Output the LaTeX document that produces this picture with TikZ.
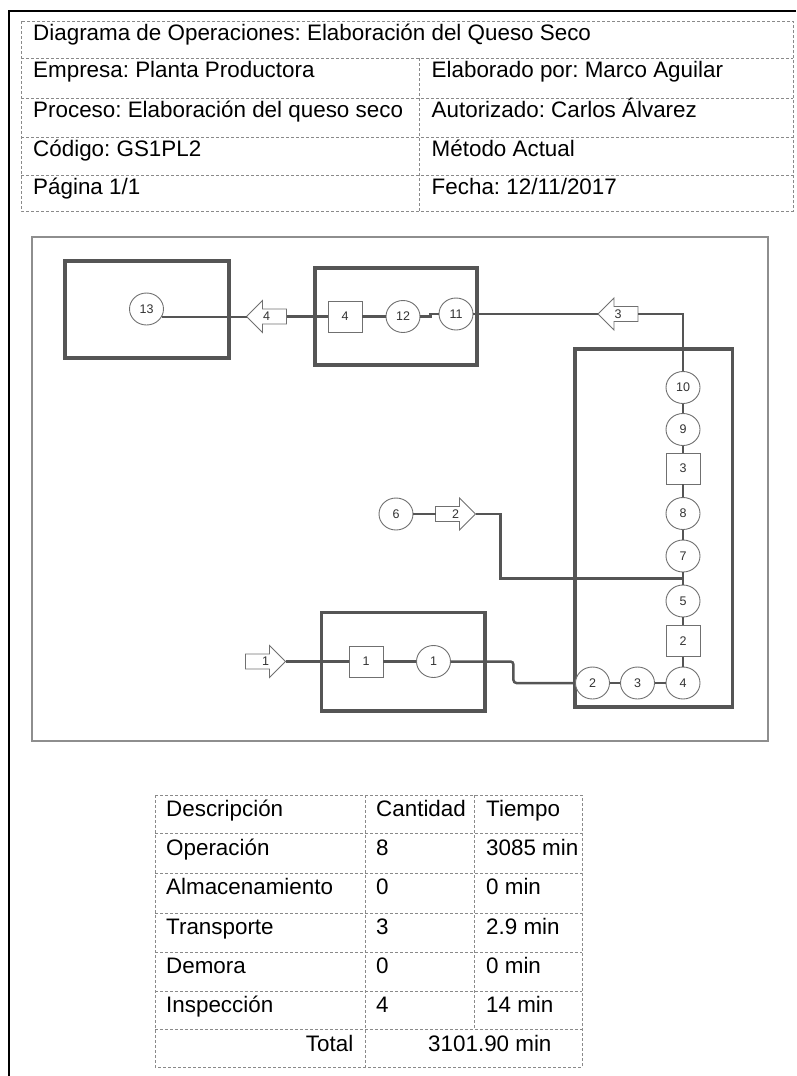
\documentclass[tikz,border=0pt]{standalone}
\usepackage{fontspec}
\setmainfont{Liberation Sans}
\usetikzlibrary{shapes.geometric,calc}
\definecolor{lineg}{HTML}{555555}
\definecolor{shapeg}{HTML}{707070}
\definecolor{frameg}{HTML}{8E8E8E}
\definecolor{dashg}{HTML}{8A8A8A}
\definecolor{txtg}{HTML}{333333}
\frenchspacing

\newcommand{\tarrow}[5]{% name, x, y, label, direction
  \begin{scope}[shift={(#2,#3)}, xscale=#5]
    \draw[arrowshape] (-20,-7.5) -- (4,-7.5) -- (4,-16) -- (20,0) -- (4,16) -- (4,7.5) -- (-20,7.5) -- cycle;
    \coordinate (#1-tip) at (20,0);
    \coordinate (#1-tail) at (-20,0);
  \end{scope}
  \node[lbl] (#1) at (#2,#3) {#4};
}

\begin{document}
\begin{tikzpicture}[x=1pt,y=-1pt,
  conn/.style={draw=lineg, line width=2.5pt},
  boxst/.style={draw=lineg, line width=3.5pt},
  circ/.style={ellipse, draw=shapeg, fill=white, line width=0.9pt, minimum width=34pt, minimum height=32pt, inner sep=0pt, font=\fontsize{12.5}{12.5}\selectfont, text=txtg},
  sq/.style={rectangle, draw=shapeg, fill=white, line width=0.9pt, minimum width=34pt, minimum height=31pt, inner sep=0pt, font=\fontsize{12.5}{12.5}\selectfont, text=txtg},
  arrowshape/.style={draw=shapeg, fill=white, line width=0.9pt, line join=miter},
  lbl/.style={inner sep=0pt, font=\fontsize{12.5}{12.5}\selectfont, text=txtg},
  hdr/.style={anchor=base west, inner sep=0pt, font=\fontsize{22.4}{26}\selectfont},
  hdre/.style={anchor=base east, inner sep=0pt, font=\fontsize{22.4}{26}\selectfont},
  tab/.style={draw=dashg, line width=1pt, dash pattern=on 3pt off 2pt},
]
\useasboundingbox (0,0) rectangle (796,1076);

% page frame
\draw[black, line width=2pt] (796,10.5) -- (9,10.5) -- (9,1076);

% header table
\draw[tab] (21,21) rectangle (793,211);
\foreach \yy in {58,98,137,175} \draw[tab] (21,\yy) -- (793,\yy);
\draw[tab] (419,58) -- (419,211);
\node[hdr] (h1) at (33,40.5) {Diagrama de Operaciones: Elaboración del Queso Seco};
\node[hdr] (h2) at (33,77.5) {Empresa: Planta Productora};
\node[hdr] (h3) at (431.5,77.5) {Elaborado por: Marco Aguilar};
\node[hdr] (h4) at (33,117.5) {Proceso: Elaboración del queso seco};
\node[hdr] (h5) at (431.5,117.5) {Autorizado: Carlos Álvarez};
\node[hdr] (h6) at (33,156.5) {Código: GS1PL2};
\node[hdr] (h7) at (431.5,156.5) {Método Actual};
\node[hdr] (h8) at (33,194.5) {Página 1/1};
\node[hdr] (h9) at (431.5,194.5) {Fecha: 12/11/2017};

% diagram frame
\draw[frameg, line width=1.5pt] (32,237) rectangle (768,741);

% area boxes
\draw[boxst] (65,261) rectangle (229,358);
\draw[boxst] (315,268) rectangle (477,365);
\draw[boxst] (575,349) rectangle (732.5,707);
\draw[boxst] (321.5,612.5) rectangle (485,711);

% symbols
\node[circ] (c13) at (146.5,309) {13};
\tarrow{a4}{266.5}{316.5}{4}{-1}
\node[sq] (s4) at (345,316.5) {4};
\node[circ] (c12) at (403,316.5) {12};
\node[circ] (c11) at (456,314) {11};
\tarrow{a3}{618}{314}{3}{-1}

\node[circ] (c10) at (683,387.5) {10};
\node[circ] (c9) at (683,429.5) {9};
\node[sq] (s3) at (683,468.5) {3};
\node[circ] (c8) at (683,513.5) {8};
\node[circ] (c7) at (683,556) {7};
\node[circ] (c5) at (683,601) {5};
\node[sq] (s2) at (683,641) {2};
\node[circ] (c4) at (683,683) {4};
\node[circ] (c3) at (637.5,683) {3};
\node[circ] (c2) at (592.5,683) {2};

\node[circ] (c6) at (396,514) {6};
\tarrow{a2}{455.5}{514}{2}{1}

\tarrow{a1}{265.5}{661.5}{1}{1}
\node[sq] (s1) at (366,661.5) {1};
\node[circ] (c1) at (433.5,661.5) {1};

\coordinate (j) at ($(c7.south)!0.5!(c5.north)$);

% connectors
\draw[conn] (c13.-28) -- (c13.-28 -| a4-tip);
\draw[conn] (a4-tail) -- (s4.west);
\draw[conn] (s4.east) -- (c12.west);
\draw[conn] (c12.east) -- ++(10,0) |- (c11.west);
\draw[conn] (c11.east) -- (a3-tip);
\draw[conn] (a3-tail) -| (c10.north);
\draw[conn] (c10.south) -- (c9.north);
\draw[conn] (c9.south) -- (s3.north);
\draw[conn] (s3.south) -- (c8.north);
\draw[conn] (c8.south) -- (c7.north);
\draw[conn] (c7.south) -- (c5.north);
\draw[conn] (c5.south) -- (s2.north);
\draw[conn] (s2.south) -- (c4.north);
\draw[conn] (c4.west) -- (c3.east);
\draw[conn] (c3.west) -- (c2.east);
\draw[conn] (c6.east) -- (a2-tail);
\draw[conn] (a2-tip) -- ++(25,0) |- (j);
\draw[conn] (a1-tip) -- (s1.west);
\draw[conn] (s1.east) -- (c1.west);
\draw[conn, rounded corners=3pt] (c1.east) -- ++(62.5,0) |- (c2.west);

% summary table
\draw[tab] (155,795) rectangle (582,1067);
\foreach \yy in {833.5,873,913,952,991,1029.5} \draw[tab] (155,\yy) -- (582,\yy);
\draw[tab] (365,795) -- (365,1067);
\draw[tab] (474.5,795) -- (474.5,1029.5);
\node[hdr] (t11) at (166,816.5) {Descripción};
\node[hdr] (t12) at (376,816.5) {Cantidad};
\node[hdr] (t13) at (486,816.5) {Tiempo};
\node[hdr] (t21) at (166,855) {Operación};
\node[hdr] (t22) at (376,855) {8};
\node[hdr] (t23) at (486,855) {3085 min};
\node[hdr] (t31) at (166,894.5) {Almacenamiento};
\node[hdr] (t32) at (376,894.5) {0};
\node[hdr] (t33) at (486,894.5) {0 min};
\node[hdr] (t41) at (166,934.5) {Transporte};
\node[hdr] (t42) at (376,934.5) {3};
\node[hdr] (t43) at (486,934.5) {2.9 min};
\node[hdr] (t51) at (166,973.5) {Demora};
\node[hdr] (t52) at (376,973.5) {0};
\node[hdr] (t53) at (486,973.5) {0 min};
\node[hdr] (t61) at (166,1012.5) {Inspección};
\node[hdr] (t62) at (376,1012.5) {4};
\node[hdr] (t63) at (486,1012.5) {14 min};
\node[hdre] (t71) at (353.5,1051) {Total};
\node[hdr] (t72) at (428,1051) {3101.90 min};
\end{tikzpicture}
\end{document}
